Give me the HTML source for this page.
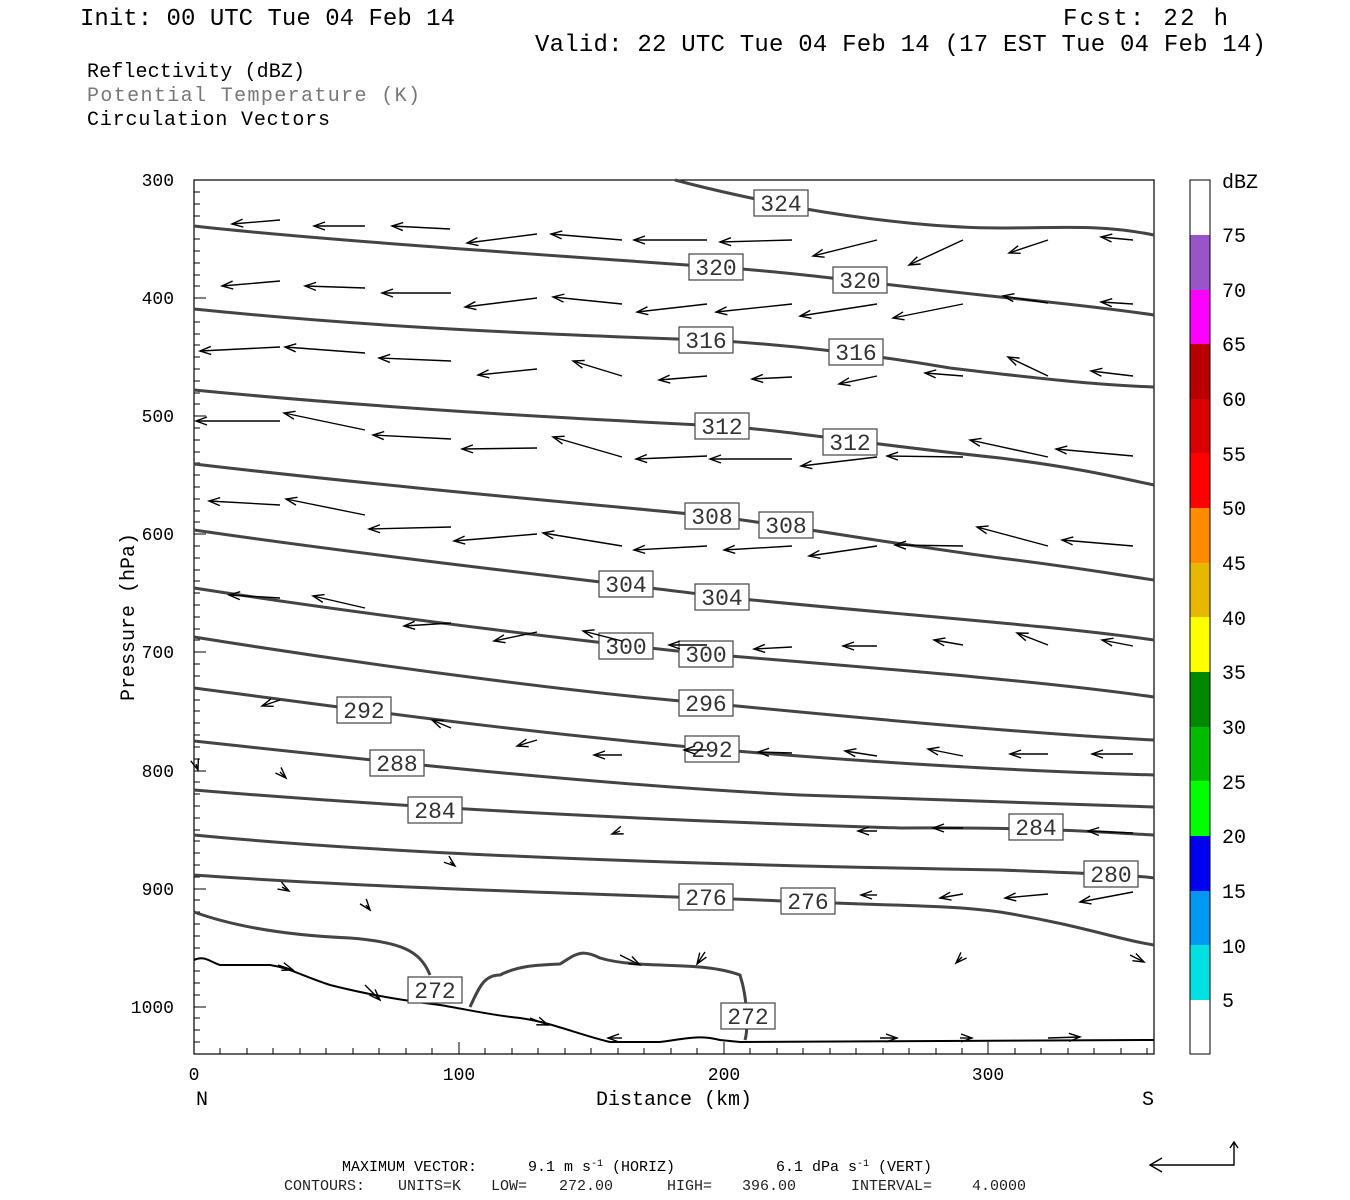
<!DOCTYPE html>
<html><head><meta charset="utf-8"><style>
html,body{margin:0;padding:0;background:#fff;}
svg{display:block;}
text{font-family:"Liberation Mono",monospace;}
.c{fill:none;stroke:#444;stroke-width:3;stroke-linejoin:round;}
.v line{stroke:#000;stroke-width:1.4;marker-start:url(#ah);}
.lb rect{fill:#fff;stroke:#444;stroke-width:1.2;}
.lb text{font-size:23px;fill:#333;text-anchor:middle;}
.t{stroke:#000;stroke-width:1;}
</style></head><body>
<svg width="1350" height="1200" viewBox="0 0 1350 1200" xmlns="http://www.w3.org/2000/svg">
<defs>
<marker id="ah" markerWidth="14" markerHeight="12" refX="0" refY="5" orient="auto" markerUnits="userSpaceOnUse" style="overflow:visible">
<path d="M11,1 L0,5 L11,9" fill="none" stroke="#000" stroke-width="1.4"/>
</marker>
</defs>
<text x="80" y="25" font-size="24" textLength="375">Init: 00 UTC Tue 04 Feb 14</text>
<text x="1063" y="25" font-size="24" textLength="165">Fcst:  22 h</text>
<text x="535" y="51" font-size="24" textLength="731">Valid: 22 UTC Tue 04 Feb 14 (17 EST Tue 04 Feb 14)</text>
<text x="87" y="77" font-size="20" textLength="218">Reflectivity (dBZ)</text>
<text x="87" y="101" font-size="20" fill="#777" textLength="333">Potential Temperature (K)</text>
<text x="87" y="125" font-size="20" textLength="243">Circulation Vectors</text>

<rect x="194" y="180" width="960" height="874" fill="none" stroke="#000" stroke-width="1.2"/>
<g class="t">
<path d="M194,192h6M194,204h6M194,216h6M194,227h6M194,239h6M194,251h6M194,263h6M194,275h6M194,286h6M194,298h6M194,310h6M194,322h6M194,334h6M194,345h6M194,357h6M194,369h6M194,381h6M194,393h6M194,404h6M194,416h6M194,428h6M194,440h6M194,452h6M194,463h6M194,475h6M194,487h6M194,499h6M194,511h6M194,522h6M194,534h6M194,546h6M194,558h6M194,570h6M194,581h6M194,593h6M194,605h6M194,617h6M194,629h6M194,640h6M194,652h6M194,664h6M194,676h6M194,688h6M194,700h6M194,711h6M194,723h6M194,735h6M194,747h6M194,759h6M194,771h6M194,782h6M194,794h6M194,806h6M194,818h6M194,830h6M194,841h6M194,853h6M194,865h6M194,877h6M194,889h6M194,900h6M194,912h6M194,924h6M194,936h6M194,948h6M194,959h6M194,971h6M194,983h6M194,995h6M194,1007h6M194,1018h6M194,1030h6M194,1042h6"/>
<path d="M194,298h12M194,416h12M194,534h12M194,652h12M194,771h12M194,889h12M194,1007h12"/>
<path d="M220,1054v-6M247,1054v-6M273,1054v-6M300,1054v-6M326,1054v-6M353,1054v-6M379,1054v-6M406,1054v-6M432,1054v-6M459,1054v-12M485,1054v-6M512,1054v-6M538,1054v-6M565,1054v-6M591,1054v-6M618,1054v-6M644,1054v-6M671,1054v-6M697,1054v-6M724,1054v-12M750,1054v-6M777,1054v-6M803,1054v-6M830,1054v-6M856,1054v-6M883,1054v-6M909,1054v-6M936,1054v-6M962,1054v-6M988,1054v-12M1015,1054v-6M1041,1054v-6M1068,1054v-6M1094,1054v-6M1121,1054v-6M1147,1054v-6"/>
</g>
<g font-size="18" text-anchor="end">
<text x="174" y="186">300</text><text x="174" y="304">400</text><text x="174" y="422">500</text><text x="174" y="540">600</text><text x="174" y="658">700</text><text x="174" y="777">800</text><text x="174" y="895">900</text><text x="174" y="1013">1000</text>
</g>
<text transform="translate(134,617) rotate(-90)" font-size="20" text-anchor="middle">Pressure (hPa)</text>
<g font-size="18" text-anchor="middle">
<text x="194" y="1080">0</text><text x="459" y="1080">100</text><text x="724" y="1080">200</text><text x="988" y="1080">300</text>
</g>
<text x="202" y="1105" font-size="20" text-anchor="middle">N</text>
<text x="1148" y="1105" font-size="20" text-anchor="middle">S</text>
<text x="674" y="1105" font-size="20" text-anchor="middle">Distance (km)</text>

<g>
<path class="c" d="M675,180 C720,192 760,200 800,208 C880,222 950,228 1000,228 C1060,228 1100,224 1154,235"/>
<path class="c" d="M194,226 C300,238 500,252 716,267 C800,273 860,282 1000,297 C1080,305 1120,310 1154,315"/>
<path class="c" d="M194,309 C350,325 500,333 706,340 C780,344 856,352 950,368 C1050,380 1100,385 1154,387"/>
<path class="c" d="M194,390 C400,410 600,420 722,426 C800,432 850,442 1000,458 C1080,468 1120,478 1154,485"/>
<path class="c" d="M194,464 C400,488 600,505 712,516 C786,525 900,545 1000,558 C1080,568 1120,575 1154,580"/>
<path class="c" d="M194,530 C400,560 626,584 722,597 C900,615 1050,625 1154,640"/>
<path class="c" d="M194,588 C400,620 626,646 706,654 C900,670 1050,682 1154,697"/>
<path class="c" d="M194,637 C400,670 600,695 706,703 C900,722 1050,735 1154,740"/>
<path class="c" d="M194,688 C364,710 500,730 712,749 C900,765 1050,772 1154,775"/>
<path class="c" d="M194,741 C397,763 600,785 800,795 C1000,802 1100,805 1154,807"/>
<path class="c" d="M194,790 C435,810 700,822 900,828 C1036,827 1100,832 1154,835"/>
<path class="c" d="M194,835 C400,855 700,865 1000,870 C1111,874 1140,876 1154,878"/>
<path class="c" d="M194,875 C400,890 706,897 808,902 C900,906 950,905 1000,912 C1080,925 1120,940 1154,945"/>
<path class="c" d="M194,912 C230,925 280,935 350,938 C400,942 420,950 430,975"/>
<path class="c" d="M470,1007 C480,985 485,975 500,975 C520,965 540,965 560,964 C575,955 580,948 600,958 C640,970 700,960 740,975 C748,1000 748,1030 745,1040"/>
<path d="M194,960 C205,955 210,962 220,965 L270,965 C290,968 300,975 330,985 C370,995 400,1000 440,1005 C470,1010 490,1015 520,1018 C550,1022 580,1035 610,1042 L660,1042 C690,1038 700,1035 720,1040 L740,1042 L1154,1040" fill="none" stroke="#000" stroke-width="2"/>
</g>
<g class="lb">
<rect x="754" y="190" width="54" height="26"/><text x="781" y="211">324</text>
<rect x="689" y="254" width="54" height="26"/><text x="716" y="275">320</text>
<rect x="833" y="267" width="54" height="26"/><text x="860" y="288">320</text>
<rect x="679" y="327" width="54" height="26"/><text x="706" y="348">316</text>
<rect x="829" y="339" width="54" height="26"/><text x="856" y="360">316</text>
<rect x="695" y="413" width="54" height="26"/><text x="722" y="434">312</text>
<rect x="823" y="429" width="54" height="26"/><text x="850" y="450">312</text>
<rect x="685" y="503" width="54" height="26"/><text x="712" y="524">308</text>
<rect x="759" y="512" width="54" height="26"/><text x="786" y="533">308</text>
<rect x="599" y="571" width="54" height="26"/><text x="626" y="592">304</text>
<rect x="695" y="584" width="54" height="26"/><text x="722" y="605">304</text>
<rect x="599" y="633" width="54" height="26"/><text x="626" y="654">300</text>
<rect x="679" y="641" width="54" height="26"/><text x="706" y="662">300</text>
<rect x="679" y="690" width="54" height="26"/><text x="706" y="711">296</text>
<rect x="337" y="697" width="54" height="26"/><text x="364" y="718">292</text>
<rect x="685" y="736" width="54" height="26"/><text x="712" y="757">292</text>
<rect x="370" y="750" width="54" height="26"/><text x="397" y="771">288</text>
<rect x="408" y="797" width="54" height="26"/><text x="435" y="818">284</text>
<rect x="1009" y="814" width="54" height="26"/><text x="1036" y="835">284</text>
<rect x="1084" y="861" width="54" height="26"/><text x="1111" y="882">280</text>
<rect x="679" y="884" width="54" height="26"/><text x="706" y="905">276</text>
<rect x="781" y="888" width="54" height="26"/><text x="808" y="909">276</text>
<rect x="408" y="977" width="54" height="26"/><text x="435" y="998">272</text>
<rect x="721" y="1003" width="54" height="26"/><text x="748" y="1024">272</text>
</g>
<g class="v">
<line x1="232" y1="224" x2="280" y2="220"/><line x1="314" y1="226" x2="365" y2="226"/><line x1="392" y1="226" x2="450" y2="229"/><line x1="467" y1="243" x2="537" y2="234"/><line x1="551" y1="234" x2="622" y2="240"/><line x1="634" y1="240" x2="707" y2="240"/><line x1="720" y1="242" x2="792" y2="240"/><line x1="813" y1="256" x2="877" y2="240"/><line x1="909" y1="265" x2="963" y2="240"/><line x1="1009" y1="253" x2="1048" y2="240"/><line x1="1101" y1="237" x2="1133" y2="240"/>
<line x1="222" y1="286" x2="280" y2="281"/><line x1="305" y1="286" x2="365" y2="288"/><line x1="382" y1="293" x2="451" y2="293"/><line x1="465" y1="307" x2="537" y2="298"/><line x1="553" y1="297" x2="622" y2="304"/><line x1="637" y1="312" x2="707" y2="304"/><line x1="716" y1="312" x2="792" y2="304"/><line x1="800" y1="316" x2="877" y2="304"/><line x1="893" y1="318" x2="963" y2="304"/><line x1="1003" y1="296" x2="1048" y2="303"/><line x1="1101" y1="302" x2="1133" y2="304"/>
<line x1="200" y1="351" x2="280" y2="347"/><line x1="285" y1="347" x2="365" y2="353"/><line x1="379" y1="358" x2="451" y2="361"/><line x1="478" y1="375" x2="537" y2="369"/><line x1="573" y1="361" x2="622" y2="376"/><line x1="659" y1="380" x2="707" y2="376"/><line x1="752" y1="379" x2="792" y2="377"/><line x1="839" y1="384" x2="877" y2="376"/><line x1="925" y1="373" x2="963" y2="376"/><line x1="1008" y1="357" x2="1048" y2="376"/><line x1="1091" y1="371" x2="1133" y2="376"/>
<line x1="196" y1="421" x2="280" y2="421"/><line x1="284" y1="413" x2="365" y2="430"/><line x1="373" y1="435" x2="451" y2="439"/><line x1="462" y1="449" x2="537" y2="448"/><line x1="553" y1="437" x2="622" y2="457"/><line x1="636" y1="459" x2="707" y2="456"/><line x1="710" y1="459" x2="792" y2="459"/><line x1="801" y1="466" x2="877" y2="457"/><line x1="887" y1="456" x2="963" y2="457"/><line x1="970" y1="440" x2="1048" y2="457"/><line x1="1056" y1="449" x2="1133" y2="456"/>
<line x1="209" y1="501" x2="280" y2="505"/><line x1="286" y1="499" x2="365" y2="515"/><line x1="369" y1="529" x2="451" y2="527"/><line x1="454" y1="541" x2="537" y2="534"/><line x1="543" y1="533" x2="622" y2="546"/><line x1="634" y1="550" x2="707" y2="546"/><line x1="724" y1="550" x2="792" y2="546"/><line x1="809" y1="556" x2="877" y2="546"/><line x1="895" y1="545" x2="963" y2="546"/><line x1="977" y1="527" x2="1048" y2="546"/><line x1="1062" y1="540" x2="1133" y2="546"/>
<line x1="229" y1="595" x2="280" y2="598"/><line x1="313" y1="596" x2="365" y2="608"/><line x1="404" y1="626" x2="451" y2="623"/><line x1="494" y1="641" x2="537" y2="632"/><line x1="583" y1="631" x2="622" y2="641"/><line x1="669" y1="645" x2="707" y2="645"/><line x1="754" y1="649" x2="792" y2="647"/><line x1="843" y1="646" x2="877" y2="646"/><line x1="934" y1="640" x2="963" y2="645"/><line x1="1017" y1="633" x2="1048" y2="645"/><line x1="1102" y1="640" x2="1133" y2="646"/>
<line x1="262" y1="706" x2="280" y2="700"/><line x1="432" y1="720" x2="451" y2="728"/><line x1="517" y1="746" x2="537" y2="740"/><line x1="594" y1="755" x2="622" y2="755"/><line x1="684" y1="750" x2="707" y2="750"/><line x1="758" y1="752" x2="792" y2="753"/><line x1="845" y1="751" x2="877" y2="756"/><line x1="928" y1="749" x2="963" y2="756"/><line x1="1010" y1="754" x2="1048" y2="754"/><line x1="1092" y1="754" x2="1133" y2="754"/>
<line x1="1088" y1="831" x2="1133" y2="833"/><line x1="933" y1="828" x2="963" y2="828"/><line x1="858" y1="831" x2="877" y2="831"/><line x1="1080" y1="902" x2="1133" y2="892"/><line x1="1005" y1="898" x2="1048" y2="894"/><line x1="940" y1="898" x2="963" y2="894"/><line x1="861" y1="895" x2="877" y2="895"/><line x1="608" y1="1038" x2="622" y2="1038"/>
<line x1="380" y1="1000" x2="365" y2="985"/><line x1="640" y1="965" x2="620" y2="955"/><line x1="293" y1="970" x2="278" y2="965"/><line x1="548" y1="1025" x2="530" y2="1018"/><line x1="1144" y1="962" x2="1130" y2="955"/><line x1="697" y1="964" x2="705" y2="952"/><line x1="956" y1="963" x2="962" y2="957"/><line x1="1080" y1="1037" x2="1048" y2="1038"/><line x1="897" y1="1038" x2="880" y2="1038"/><line x1="972" y1="1038" x2="960" y2="1038"/>
<line x1="198" y1="770" x2="196" y2="764"/><line x1="286" y1="778" x2="280" y2="772"/><line x1="455" y1="866" x2="450" y2="862"/><line x1="370" y1="910" x2="366" y2="905"/><line x1="289" y1="891" x2="282" y2="887"/><line x1="612" y1="834" x2="620" y2="831"/>
</g>
<g>
<rect x="1190" y="180" width="20" height="55" fill="#fff"/>
<rect x="1190" y="235" width="20" height="55" fill="#9955c8"/>
<rect x="1190" y="290" width="20" height="54" fill="#ff00ff"/>
<rect x="1190" y="344" width="20" height="55" fill="#b80000"/>
<rect x="1190" y="399" width="20" height="54" fill="#d80000"/>
<rect x="1190" y="453" width="20" height="55" fill="#ff0000"/>
<rect x="1190" y="508" width="20" height="55" fill="#ff8c00"/>
<rect x="1190" y="563" width="20" height="54" fill="#e6b800"/>
<rect x="1190" y="617" width="20" height="55" fill="#ffff00"/>
<rect x="1190" y="672" width="20" height="55" fill="#008800"/>
<rect x="1190" y="727" width="20" height="54" fill="#00bb00"/>
<rect x="1190" y="781" width="20" height="55" fill="#00ff00"/>
<rect x="1190" y="836" width="20" height="55" fill="#0000f0"/>
<rect x="1190" y="891" width="20" height="54" fill="#0098f0"/>
<rect x="1190" y="945" width="20" height="55" fill="#00e0e0"/>
<rect x="1190" y="1000" width="20" height="54" fill="#fff"/>
<rect x="1190" y="180" width="20" height="874" fill="none" stroke="#000" stroke-width="1"/>
</g>
<g font-size="20">
<text x="1222" y="188">dBZ</text>
<text x="1222" y="242">75</text><text x="1222" y="297">70</text><text x="1222" y="351">65</text><text x="1222" y="406">60</text><text x="1222" y="461">55</text><text x="1222" y="515">50</text><text x="1222" y="570">45</text><text x="1222" y="625">40</text><text x="1222" y="679">35</text><text x="1222" y="734">30</text><text x="1222" y="789">25</text><text x="1222" y="843">20</text><text x="1222" y="898">15</text><text x="1222" y="953">10</text><text x="1222" y="1007">5</text>
</g>
<g font-size="15" font-family="Liberation Serif, serif">
<text x="342" y="1171">MAXIMUM VECTOR:</text>
<text x="528" y="1171">9.1 m s<tspan dy="-5" font-size="10">-1</tspan><tspan dy="5"> (HORIZ)</tspan></text>
<text x="776" y="1171">6.1 dPa s<tspan dy="-5" font-size="10">-1</tspan><tspan dy="5"> (VERT)</tspan></text>
<text x="284" y="1190" fill="#222">CONTOURS:</text>
<text x="398" y="1190" fill="#222">UNITS=K</text>
<text x="491" y="1190" fill="#222">LOW=</text>
<text x="559" y="1190" fill="#222">272.00</text>
<text x="667" y="1190" fill="#222">HIGH=</text>
<text x="742" y="1190" fill="#222">396.00</text>
<text x="851" y="1190" fill="#222">INTERVAL=</text>
<text x="972" y="1190" fill="#222">4.0000</text>
</g>
<path d="M1150,1165 L1234,1165 L1234,1142" fill="none" stroke="#000" stroke-width="1.4"/>
<path d="M1162,1158 L1150,1165 L1162,1172 M1230,1148 L1234,1142 L1238,1148" fill="none" stroke="#000" stroke-width="1.4"/>
</svg>
</body></html>
